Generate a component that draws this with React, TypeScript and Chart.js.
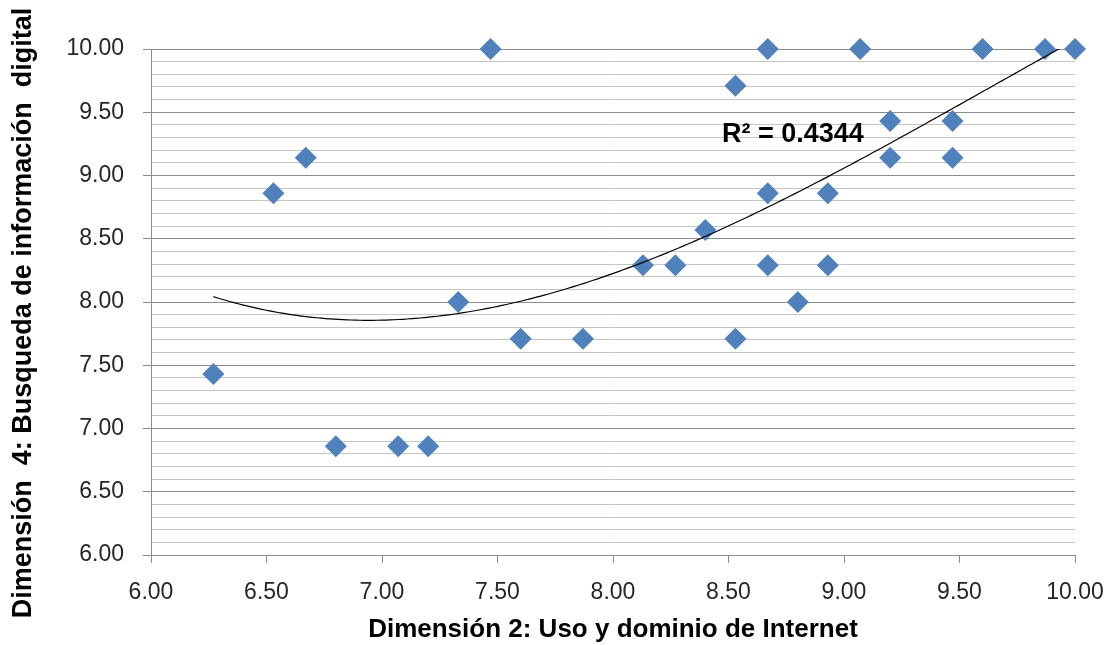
import React, { useEffect, useRef } from "react";
import { Chart, registerables } from "chart.js";

Chart.register(...registerables);

// Dimensión 2 (x) and Dimensión 4 (y) scores per respondent
const xValues = [
  6.27, 6.53, 6.67, 6.8, 7.07, 7.2, 7.33, 7.47, 7.6, 7.87, 8.13, 8.27, 8.4, 8.53, 8.53,
  8.67, 8.67, 8.67, 8.8, 8.93, 8.93, 9.07, 9.2, 9.2, 9.47, 9.47, 9.6, 9.87, 10.0,
];
const yValues = [
  7.43, 8.86, 9.14, 6.86, 6.86, 6.86, 8.0, 10.0, 7.71, 7.71, 8.29, 8.29, 8.57, 9.71, 7.71,
  10.0, 8.86, 8.29, 8.0, 8.86, 8.29, 10.0, 9.43, 9.14, 9.43, 9.14, 10.0, 10.0, 10.0,
];
const xTickValues = [6.0, 6.5, 7.0, 7.5, 8.0, 8.5, 9.0, 9.5, 10.0];
const yMajorTicks = [6.0, 6.5, 7.0, 7.5, 8.0, 8.5, 9.0, 9.5, 10.0];
const xTitle = "Dimensión 2: Uso y dominio de Internet";
const yTitle = "Dimensión  4: Busqueda de información  digital";
const r2Label = "R² = 0.4344";
const polyOrder = 3;

// least-squares polynomial fit of the data (trendline)
function polyFit(xs: number[], ys: number[], order: number, c: number) {
  const n = order + 1;
  const A: number[][] = [];
  for (let i = 0; i < n; i++) {
    A.push(new Array(n + 1).fill(0));
  }
  for (let k = 0; k < xs.length; k++) {
    const x = xs[k] - c;
    for (let i = 0; i < n; i++) {
      for (let j = 0; j < n; j++) A[i][j] += Math.pow(x, i + j);
      A[i][n] += ys[k] * Math.pow(x, i);
    }
  }
  for (let i = 0; i < n; i++) {
    let p = i;
    for (let r = i + 1; r < n; r++) if (Math.abs(A[r][i]) > Math.abs(A[p][i])) p = r;
    [A[i], A[p]] = [A[p], A[i]];
    for (let r = 0; r < n; r++) {
      if (r === i) continue;
      const f = A[r][i] / A[i][i];
      for (let cc = i; cc <= n; cc++) A[r][cc] -= f * A[i][cc];
    }
  }
  return A.map((row, i) => row[n] / row[i]);
}

export default function App() {
  const ref = useRef<HTMLCanvasElement | null>(null);

  useEffect(() => {
    if (!ref.current) return;
    const center = 8;
    const coef = polyFit(xValues, yValues, polyOrder, center);
    const f = (x: number) => coef.reduce((s, a, i) => s + a * Math.pow(x - center, i), 0);

    const xMin = Math.min(...xValues);
    const xMax = Math.max(...xValues);
    const trend: { x: number; y: number }[] = [];
    const steps = 200;
    for (let i = 0; i <= steps; i++) {
      const x = xMin + ((xMax - xMin) * i) / steps;
      trend.push({ x, y: f(x) });
    }

    const isMajor = (v: number) => Math.abs(v * 2 - Math.round(v * 2)) < 1e-6;

    const textPlugin = {
      id: "texts",
      afterDraw(chart: any) {
        const ctx = chart.ctx as CanvasRenderingContext2D;
        const ca = chart.chartArea;
        ctx.save();
        ctx.fillStyle = "#000";
        ctx.font = "bold 26px 'Liberation Sans', Arial, sans-serif";
        ctx.textAlign = "center";
        ctx.textBaseline = "middle";
        ctx.fillText(xTitle, (ca.left + ca.right) / 2, 630);
        ctx.translate(23.5, 313);
        ctx.rotate(-Math.PI / 2);
        ctx.font = "bold 27px 'Liberation Sans', Arial, sans-serif";
        ctx.fillText(yTitle, 0, 0);
        ctx.restore();

        ctx.save();
        ctx.fillStyle = "#000";
        ctx.font = "bold 27px 'Liberation Sans', Arial, sans-serif";
        ctx.textAlign = "left";
        ctx.textBaseline = "middle";
        ctx.fillText(r2Label, 722, 135);
        ctx.restore();
      },
    };

    const chart = new Chart(ref.current, {
      type: "scatter",
      data: {
        datasets: [
          {
            type: "line",
            label: "Trend",
            data: trend,
            borderColor: "#000000",
            borderWidth: 1.2,
            pointRadius: 0,
            fill: false,
            tension: 0,
          },
          {
            label: "Datos",
            data: xValues.map((x, i) => ({ x, y: yValues[i] })),
            pointStyle: "rectRot",
            pointRadius: 11,
            pointHoverRadius: 11,
            backgroundColor: "#4f81bd",
            borderColor: "#4f81bd",
            borderWidth: 0,
            clip: false,
          },
        ],
      },
      options: {
        responsive: false,
        animation: false,
        layout: { padding: { top: 49, right: 39, left: 0, bottom: 0 } },
        plugins: {
          legend: { display: false },
          tooltip: { enabled: false },
        },
        scales: {
          x: {
            type: "linear",
            min: 6,
            max: 10,
            afterFit: (s: any) => {
              s.height = 90;
              s.paddingLeft = 0;
              s.paddingRight = 0;
            },
            afterBuildTicks: (s: any) => {
              s.ticks = xTickValues.map((v) => ({ value: v }));
            },
            ticks: {
              padding: 16,
              color: "#262626",
              font: { family: "'Liberation Sans', Arial, sans-serif", size: 23 },
              callback: (v: any) => Number(v).toFixed(2),
              maxRotation: 0,
              autoSkip: false,
            },
            grid: {
              drawOnChartArea: false,
              drawTicks: true,
              tickLength: 8,
              tickColor: "#8c8c8c",
              color: "#8c8c8c",
            },
            border: { display: true, color: "#8c8c8c", width: 1 },
          },
          y: {
            type: "linear",
            min: 6,
            max: 10,
            afterFit: (s: any) => {
              s.width = 151;
            },
            afterBuildTicks: (s: any) => {
              const t: { value: number }[] = [];
              for (let i = 0; i <= 40; i++) t.push({ value: Math.round((6 + i * 0.1) * 10) / 10 });
              s.ticks = t;
            },
            ticks: {
              padding: 19,
              color: "#262626",
              autoSkip: false,
              font: { family: "'Liberation Sans', Arial, sans-serif", size: 23 },
              callback: (v: any) => {
                const n = Number(v);
                return yMajorTicks.some((m) => Math.abs(m - n) < 1e-6) ? n.toFixed(2) : "";
              },
            },
            grid: {
              drawTicks: true,
              tickLength: 8,
              color: (c: any) => (isMajor(c.tick.value) ? "#8c8c8c" : "#c4c4c4"),
              tickColor: (c: any) => (isMajor(c.tick.value) ? "#8c8c8c" : "rgba(0,0,0,0)"),
              lineWidth: 1,
            },
            border: { display: true, color: "#8c8c8c", width: 1 },
          },
        },
      },
      plugins: [textPlugin],
    });
    return () => chart.destroy();
  }, []);

  return (
    <div style={{ position: "absolute", left: 0, top: 0, width: 1114, height: 645, background: "#fff" }}>
      <canvas ref={ref} width={1114} height={645} />
    </div>
  );
}
